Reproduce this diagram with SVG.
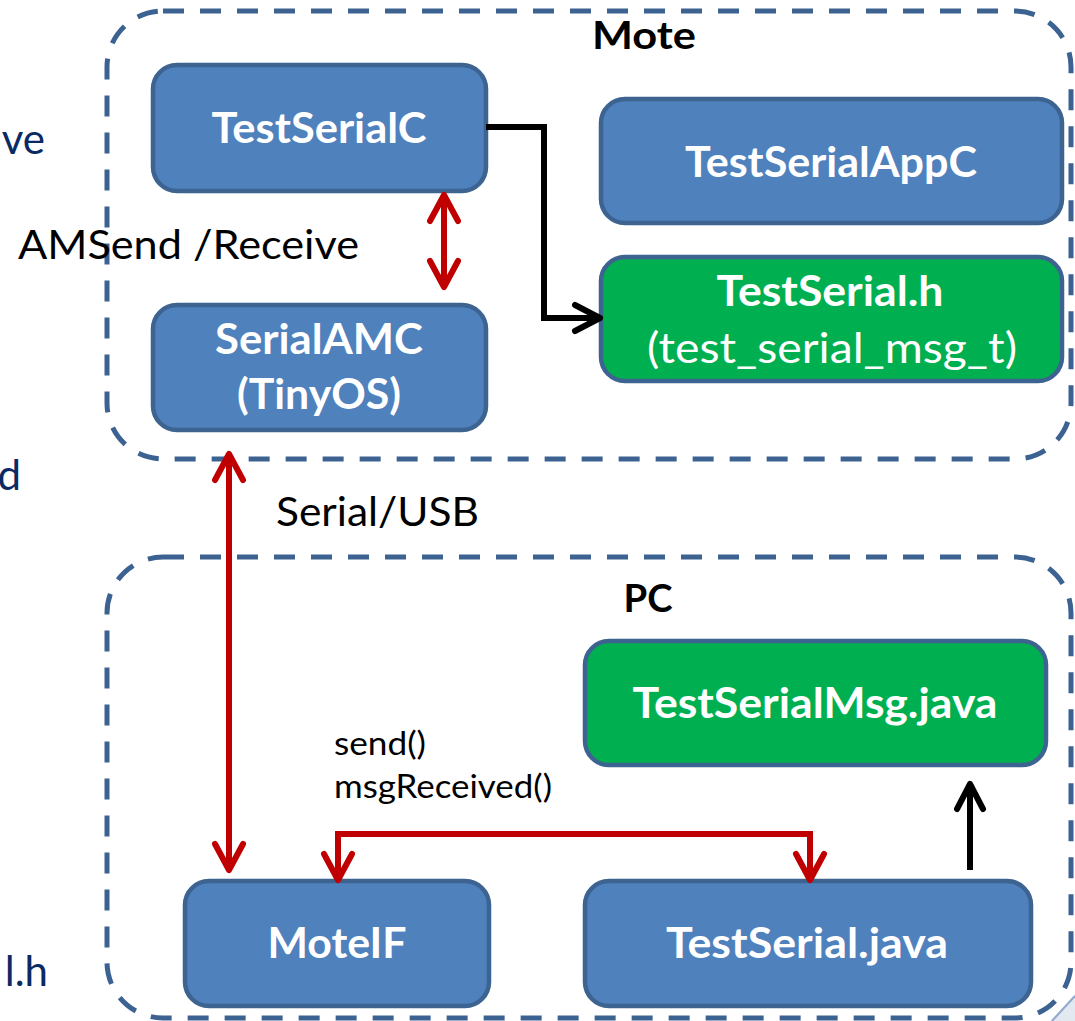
<svg xmlns="http://www.w3.org/2000/svg" width="1075" height="1021" viewBox="0 0 1075 1021">
<style>
.cont{fill:none;stroke:#3C6292;stroke-width:5;stroke-dasharray:21 16}
.blue{fill:#4F81BD;stroke:#3D6391;stroke-width:4.5}
.green{fill:#00B050;stroke:#3D6391;stroke-width:4.5}
.lbl{font-family:Lato,"Open Sans","Liberation Sans",sans-serif;font-weight:bold;font-size:42px;fill:#FFFFFF;text-anchor:middle}
.lblr{font-family:Lato,"Open Sans","Liberation Sans",sans-serif;font-size:42px;fill:#FFFFFF;text-anchor:middle}
.title{font-family:Lato,"Open Sans","Liberation Sans",sans-serif;font-weight:bold;font-size:38px;fill:#000000;text-anchor:middle}
.note{font-family:Lato,"Open Sans","Liberation Sans",sans-serif;font-size:40px;fill:#000000}
.small{font-family:Lato,"Open Sans","Liberation Sans",sans-serif;font-size:33px;fill:#000000}
.side{font-family:Lato,"Open Sans","Liberation Sans",sans-serif;font-size:42px;fill:#0B2A64;text-anchor:end}
.red{fill:none;stroke:#C00000;stroke-width:6}
.blk{fill:none;stroke:#000000;stroke-width:6}
</style>
<defs>
<marker id="ar" markerUnits="userSpaceOnUse" markerWidth="40" markerHeight="40" refX="0" refY="0" viewBox="-30 -20 40 40" orient="auto-start-reverse" overflow="visible">
<path d="M-26,-14 L0,0 L-26,14" fill="none" stroke="#C00000" stroke-width="6" stroke-linecap="round" stroke-linejoin="round"/>
</marker>
<marker id="ak" markerUnits="userSpaceOnUse" markerWidth="40" markerHeight="40" refX="0" refY="0" viewBox="-30 -20 40 40" orient="auto-start-reverse" overflow="visible">
<path d="M-25,-13 L0,0 L-25,13" fill="none" stroke="#000000" stroke-width="6" stroke-linecap="round" stroke-linejoin="round"/>
</marker>
</defs>
<rect width="1075" height="1021" fill="#FFFFFF"/>

<g id="side-text">
<text class="side" x="45" y="154">ve</text>
<text class="side" x="21" y="490">d</text>
<text class="side" x="48" y="986">l.h</text>
</g>

<g id="mote">
<rect class="cont" x="107" y="11" width="964" height="448" rx="56" ry="56"/>
<text class="title" x="644" y="49" textLength="104" lengthAdjust="spacingAndGlyphs">Mote</text>
</g>
<g id="pc">
<rect class="cont" x="107" y="557" width="964" height="461" rx="56" ry="56"/>
<text class="title" x="648" y="612" textLength="49" lengthAdjust="spacingAndGlyphs">PC</text>
</g>

<g id="TestSerialC">
<rect class="blue" x="153" y="65" width="333" height="126" rx="24" ry="24"/>
<text class="lbl" x="319" y="143" textLength="215" lengthAdjust="spacingAndGlyphs">TestSerialC</text>
</g>
<g id="SerialAMC">
<rect class="blue" x="153" y="305" width="333" height="125" rx="24" ry="24"/>
<text class="lbl" x="319" y="354" textLength="208" lengthAdjust="spacingAndGlyphs">SerialAMC</text>
<text class="lbl" x="319" y="409" textLength="164" lengthAdjust="spacingAndGlyphs">(TinyOS)</text>
</g>
<g id="TestSerialAppC">
<rect class="blue" x="601" y="99" width="461" height="124" rx="24" ry="24"/>
<text class="lbl" x="831" y="177" textLength="292" lengthAdjust="spacingAndGlyphs">TestSerialAppC</text>
</g>
<g id="TestSerial.h">
<rect class="green" x="601" y="257" width="461" height="124" rx="24" ry="24"/>
<text class="lbl" x="830" y="306" textLength="227" lengthAdjust="spacingAndGlyphs">TestSerial.h</text>
<text class="lblr" x="832" y="363" textLength="370" lengthAdjust="spacingAndGlyphs">(test_serial_msg_t)</text>
</g>
<g id="TestSerialMsg.java">
<rect class="green" x="585" y="641" width="461" height="124" rx="24" ry="24"/>
<text class="lbl" x="815" y="718" textLength="365" lengthAdjust="spacingAndGlyphs">TestSerialMsg.java</text>
</g>
<g id="MoteIF">
<rect class="blue" x="185" y="881" width="304" height="125" rx="24" ry="24"/>
<text class="lbl" x="337" y="958" textLength="139" lengthAdjust="spacingAndGlyphs">MoteIF</text>
</g>
<g id="TestSerial.java">
<rect class="blue" x="585" y="881" width="446" height="125" rx="24" ry="24"/>
<text class="lbl" x="807" y="958" textLength="282" lengthAdjust="spacingAndGlyphs">TestSerial.java</text>
</g>

<g id="connectors">
<line class="red" x1="444" y1="195" x2="444" y2="287" marker-start="url(#ar)" marker-end="url(#ar)"/>
<line class="red" x1="229" y1="454" x2="229" y2="870" marker-start="url(#ar)" marker-end="url(#ar)"/>
<path class="blk" d="M486,127 H544 V318 H600" marker-end="url(#ak)"/>
<path class="red" d="M338,880 V834 H810 V880" marker-start="url(#ar)" marker-end="url(#ar)"/>
<line class="blk" x1="970" y1="870" x2="970" y2="784" marker-end="url(#ak)"/>
</g>

<g id="labels">
<text class="note" x="18" y="259" textLength="341" lengthAdjust="spacingAndGlyphs">AMSend /Receive</text>
<text class="note" x="276" y="526" textLength="203" lengthAdjust="spacingAndGlyphs">Serial/USB</text>
<text class="small" x="334" y="755" textLength="92" lengthAdjust="spacingAndGlyphs">send()</text>
<text class="small" x="334" y="798" textLength="218" lengthAdjust="spacingAndGlyphs">msgReceived()</text>
</g>

<g id="corner">
<polygon points="1050,1021 1075,994 1075,1021" fill="#E3E9F1"/>
<line x1="1052" y1="1021" x2="1075" y2="996" stroke="#8FA9CF" stroke-width="2"/>
</g>
</svg>
